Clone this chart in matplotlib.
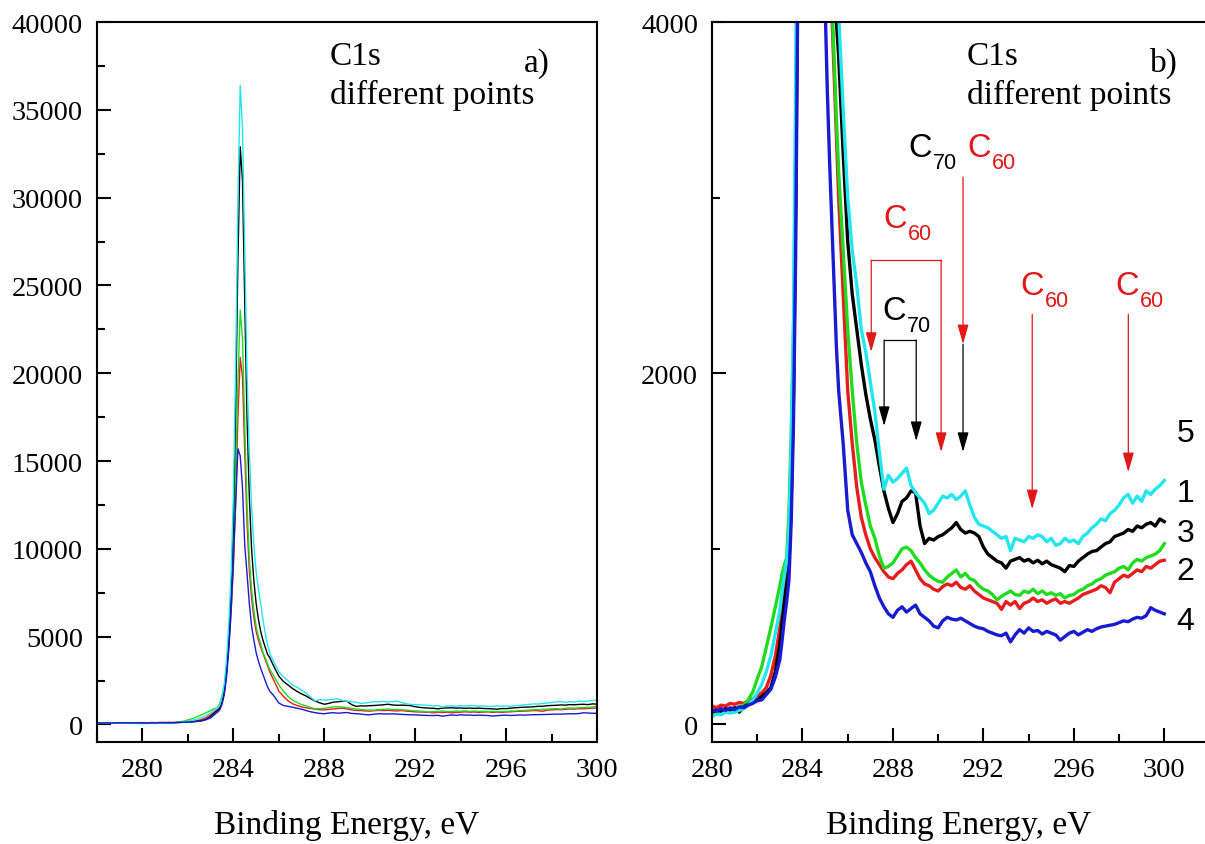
import numpy as np
import matplotlib
matplotlib.use('Agg')
import matplotlib.pyplot as plt
from matplotlib.ticker import MultipleLocator

plt.rcParams['font.family'] = 'Liberation Serif'

# binding energy grid (eV): coarse far from the line, fine across the C1s peak
energy = np.round(np.concatenate([
    np.arange(278.0, 280.0, 0.5),
    np.arange(280.0, 282.9, 0.2),
    np.arange(283.0, 285.55, 0.1),
    np.arange(285.6, 300.05, 0.2),
]), 1)

cyan_counts = [80, 75, 85, 70,
    45, 60, 55, 70, 65, 70, 80, 90, 110, 140, 180, 230, 300, 390, 520,
    650, 760, 850, 930, 1100, 1600, 2300, 3700, 5800, 8600, 13000, 20500, 30000, 36400,
    34000, 27000, 20000, 15500, 12500, 10200, 8700, 7700, 6900, 6000, 5200, 4550,
    4050, 3500, 3000, 2700, 2500, 2250, 2120, 1950, 1780, 1550,
    1340, 1420, 1380, 1400, 1430, 1460, 1360, 1320, 1290, 1260,
    1200, 1220, 1260, 1300, 1290, 1310, 1280, 1300, 1330, 1250,
    1180, 1140, 1130, 1120, 1100, 1080, 1060, 1070, 990, 1060,
    1050, 1040, 1070, 1060, 1080, 1070, 1040, 1060, 1020, 1030,
    1060, 1040, 1050, 1030, 1070, 1090, 1120, 1140, 1170, 1160,
    1200, 1220, 1250, 1290, 1310, 1260, 1300, 1270, 1330, 1310,
    1340, 1360, 1390]

black_counts = [90, 85, 95, 90,
    70, 80, 75, 90, 80, 95, 70, 100, 115, 125, 140, 160, 180, 210, 300,
    460, 580, 700, 800, 900, 1250, 1850, 3000, 4800, 7500, 11500, 18000, 26500, 32900,
    31000, 24000, 17500, 13000, 10000, 8200, 6900, 6000, 5300, 4800, 4400, 4000,
    3800, 3250, 2750, 2450, 2250, 2050, 1880, 1740, 1620, 1470,
    1330, 1230, 1150, 1200, 1270, 1290, 1330, 1320, 1130, 1030,
    1060, 1050, 1070, 1080, 1100, 1120, 1150, 1110, 1090, 1100,
    1090, 1070, 1010, 970, 950, 930, 920, 890, 930, 940,
    950, 930, 940, 920, 935, 915, 930, 910, 900, 890,
    870, 905, 900, 930, 950, 970, 985, 990, 1010, 1030,
    1040, 1070, 1080, 1090, 1110, 1100, 1130, 1120, 1140, 1150,
    1130, 1170, 1155]

green_counts = [90, 85, 95, 80,
    55, 70, 65, 80, 90, 95, 100, 110, 140, 185, 260, 330, 440, 550, 670,
    790, 860, 910, 950, 1200, 1650, 2200, 3300, 4800, 7000, 10000, 14500, 19500, 23600,
    22000, 17000, 12500, 9500, 7700, 6500, 5600, 5000, 4600, 4100, 3800, 3450,
    3150, 2700, 2250, 1900, 1600, 1380, 1250, 1130, 1060, 960,
    890, 900, 920, 960, 1000, 1010, 990, 950, 920, 880,
    850, 830, 815, 810, 840, 860, 880, 840, 860, 830,
    820, 790, 770, 760, 740, 710, 730, 745, 760, 740,
    735, 760, 750, 770, 745, 760, 740, 750, 735, 745,
    720, 735, 740, 760, 770, 790, 800, 820, 830, 850,
    860, 870, 890, 900, 880, 920, 940, 930, 950, 960,
    970, 990, 1030]

red_counts = [100, 95, 105, 100,
    105, 95, 110, 105, 120, 115, 125, 120, 135, 145, 165, 180, 210, 280, 390,
    550, 640, 740, 850, 950, 1300, 1900, 3000, 4400, 6400, 9000, 13000, 17500, 20900,
    19800, 15500, 11500, 8800, 7200, 6100, 5300, 4800, 4400, 4050, 3700, 3350,
    3000, 2450, 1900, 1600, 1350, 1180, 1080, 1000, 950, 910,
    870, 840, 830, 860, 880, 910, 930, 880, 830, 800,
    790, 770, 760, 785, 800, 790, 810, 780, 770, 790,
    760, 740, 720, 710, 700, 690, 655, 700, 680, 700,
    660, 690, 700, 720, 700, 710, 690, 705, 715, 690,
    700, 690, 705, 720, 740, 750, 760, 770, 790, 780,
    750, 810, 830, 850, 840, 860, 880, 870, 900, 890,
    910, 930, 935]

blue_counts = [85, 80, 90, 85,
    85, 75, 90, 80, 95, 85, 100, 95, 110, 120, 135, 140, 170, 200, 270,
    370, 480, 600, 700, 820, 1150, 1700, 2700, 4300, 6500, 9300, 12500, 15700, 15300,
    13500, 10200, 8600, 6900, 5600, 4800, 4100, 3600, 3200, 2850, 2500, 2150,
    1900, 1600, 1220, 1080, 1030, 980, 920, 870, 790, 720,
    670, 630, 610, 650, 670, 640, 660, 680, 630, 610,
    590, 560, 550, 590, 610, 600, 595, 605, 590, 575,
    560, 550, 545, 530, 520, 510, 505, 520, 470, 510,
    540, 520, 550, 530, 535, 515, 530, 520, 510, 480,
    500, 520, 530, 510, 525, 540, 530, 545, 555, 560,
    565, 570, 580, 590, 585, 600, 610, 605, 620, 665,
    650, 640, 630]

spectra = [(red_counts, '#e81c1c'), (green_counts, '#1fdc1f'), (black_counts, 'black'),
           (cyan_counts, '#22e6ee'), (blue_counts, '#1a1ad2')]
for counts, _ in spectra:
    assert len(counts) == len(energy)

curve_numbers = ['5', '1', '3', '2', '4']
curve_number_y = [1612, 1272, 1044, 827, 544]


def style_axes(ax, ymajor, yminor):
    ax.xaxis.set_major_locator(MultipleLocator(4))
    ax.xaxis.set_minor_locator(MultipleLocator(2))
    ax.yaxis.set_major_locator(MultipleLocator(ymajor))
    ax.yaxis.set_minor_locator(MultipleLocator(yminor))
    ax.tick_params(which='both', direction='in', top=False, right=False, width=1.5, labelsize=20.5)
    ax.tick_params(which='major', length=10)
    ax.tick_params(which='minor', length=5.5)
    ax.tick_params(axis='x', pad=11)
    ax.tick_params(axis='y', pad=10)
    for sp in ax.spines.values():
        sp.set_linewidth(1.5)
    ax.set_xlabel('Binding Energy, eV', fontsize=24, labelpad=19)


def c_label(ax, x, y, n, color):
    ax.text(x, y, 'C', color=color, fontsize=23.5, family='Liberation Sans', ha='left', va='baseline')
    ax.annotate(n, (x, y), xytext=(18, -8.8), textcoords='offset points', color=color,
                fontsize=15.5, family='Liberation Sans', ha='left', va='baseline')


def arrow(ax, x, y0, y1, color):
    ax.annotate('', xy=(x, y1), xytext=(x, y0),
                arrowprops=dict(arrowstyle='-|>,head_length=0.6,head_width=0.17', color=color,
                                lw=0.9, shrinkA=0, shrinkB=0, mutation_scale=20))


fig = plt.figure(figsize=(12.05, 8.45), dpi=100)
ax1 = fig.add_axes([0.0805, 0.1207, 0.415, 0.852])
ax2 = fig.add_axes([0.5909, 0.1207, 0.4091, 0.852])

# a) full scale
for counts, color in spectra:
    ax1.plot(energy, counts, color=color, lw=1.0)
ax1.set_xlim(278, 300)
ax1.set_ylim(-1000, 40000)
style_axes(ax1, 5000, 2500)
ax1.text(0.466, 0.942, 'C1s', transform=ax1.transAxes, fontsize=24)
ax1.text(0.466, 0.8875, 'different points', transform=ax1.transAxes, fontsize=24)
ax1.text(0.906, 0.932, 'a)', transform=ax1.transAxes, fontsize=24, ha='right')

# b) zoom on the high-energy tail
for counts, color in spectra:
    ax2.plot(energy, counts, color=color, lw=2.4)
ax2.set_xlim(280, 301.8)
ax2.set_ylim(-100, 4000)
ax2.spines['right'].set_visible(False)
style_axes(ax2, 2000, 1000)
ax2.text(0.517, 0.942, 'C1s', transform=ax2.transAxes, fontsize=24)
ax2.text(0.517, 0.8875, 'different points', transform=ax2.transAxes, fontsize=24)
ax2.text(0.945, 0.932, 'b)', transform=ax2.transAxes, fontsize=24, ha='right')

red = '#e01818'
c_label(ax2, 288.67, 3237, '70', 'black')
c_label(ax2, 291.28, 3237, '60', red)
c_label(ax2, 287.57, 2832, '60', red)
c_label(ax2, 287.52, 2309, '70', 'black')
c_label(ax2, 293.63, 2451, '60', red)
c_label(ax2, 297.83, 2451, '60', red)

# C60 bracket
ax2.plot([287.04, 290.13], [2644, 2644], color=red, lw=0.9)
arrow(ax2, 287.04, 2644, 2122, red)
arrow(ax2, 290.13, 2644, 1552, red)
# C70 bracket
ax2.plot([287.61, 289.03], [2189, 2189], color='black', lw=0.9)
arrow(ax2, 287.61, 2189, 1700, 'black')
arrow(ax2, 289.03, 2189, 1614, 'black')
# shared C60 / C70 position
arrow(ax2, 291.1, 3117, 2166, red)
arrow(ax2, 291.1, 2166, 1552, 'black')
arrow(ax2, 294.16, 2336, 1226, red)
arrow(ax2, 298.41, 2336, 1437, red)

for num, y in zip(curve_numbers, curve_number_y):
    ax2.text(300.55, y, num, fontsize=23, family='Liberation Sans', ha='left', va='baseline',
             clip_on=False)

fig.savefig('out.png', dpi=100)
